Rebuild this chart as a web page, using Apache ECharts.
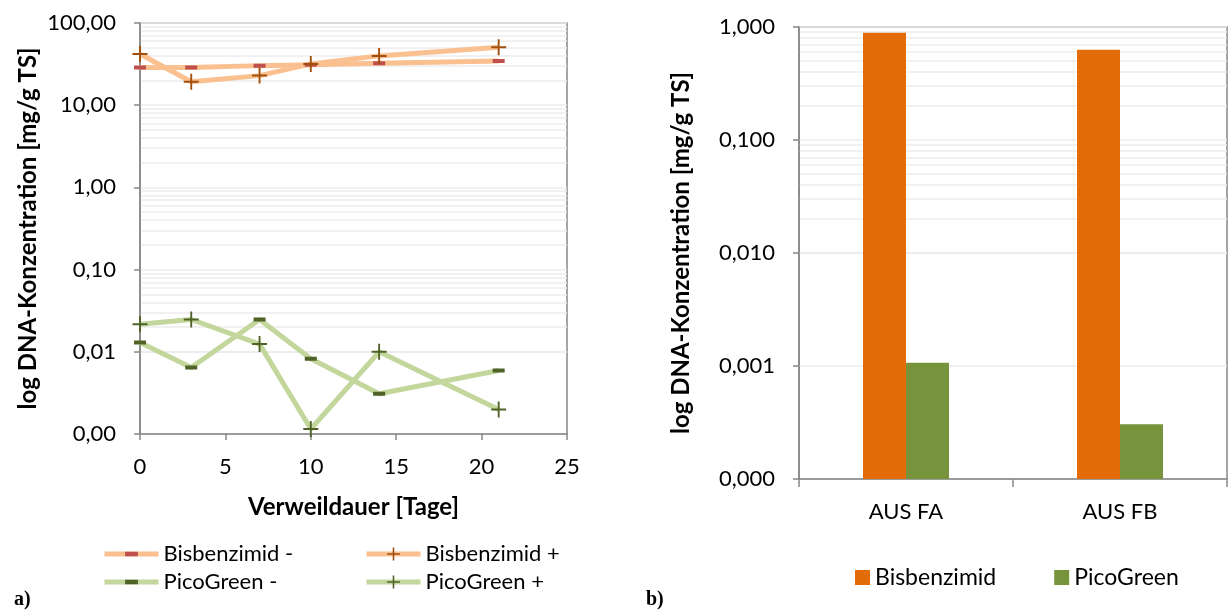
<!DOCTYPE html>
<html>
<head>
<meta charset="utf-8">
<script src="https://cdn.jsdelivr.net/npm/echarts@6/dist/echarts.min.js"></script>
<style>
html,body{margin:0;padding:0;background:#fff;}
#c{width:1229px;height:613px;}
</style>
</head>
<body>
<div id="c"></div>
<script>
// ---- data (left chart a) ----
const days = [0, 3, 7, 10, 14, 21];
const bisMinus = [28.7, 28.7, 30.3, 31.0, 32.4, 34.6];
const bisPlus = [42.0, 19.3, 22.9, 31.8, 39.8, 50.8];
const picoMinus = [0.0130, 0.00645, 0.0247, 0.00822, 0.00309, 0.00593];
const picoPlus = [0.0217, 0.0247, 0.0124, 0.00115, 0.0100, 0.00198];
const leftNames = ['Bisbenzimid -', 'Bisbenzimid +', 'PicoGreen -', 'PicoGreen +'];

// ---- data (right chart b) ----
const sites = ['AUS FA', 'AUS FB'];
const bisBar = [0.89, 0.63];
const picoBar = [0.00107, 0.000305];
const rightNames = ['Bisbenzimid', 'PicoGreen'];

const FONT = 'Lato, "Open Sans", sans-serif';
const AX = '#868686';
const GRIDC = '#ececec';
const FS = 22;
const FSN = 24;

// minor log gridlines (2..9 per decade)
function minorLines(loExp, hiExp) {
  const out = [];
  for (let e = loExp; e < hiExp; e++) {
    for (let m = 2; m <= 9; m++) out.push({ yAxis: m * Math.pow(10, e) });
  }
  return out;
}

const DASH = 'path://M0,0h0.01v0.01h-0.01z M11.99,11.99h0.01v0.01h-0.01z M0,4h12v4h-12z';
const PLUS = 'path://M7,0h2v16h-2z M0,7h16v2h-16z';

function pts(arr) { return days.map((d, i) => [d, arr[i]]); }

const chart = echarts.init(document.getElementById('c'), null, { renderer: 'canvas' });

const lineBase = (name, data, lineColor, symbol, symColor, symSize) => ({
  name, type: 'line', xAxisIndex: 0, yAxisIndex: 0, data,
  symbol, symbolSize: symSize, showSymbol: true,
  lineStyle: { color: lineColor, width: 5 },
  itemStyle: { color: symColor },
  z: 3, animation: false
});

const s1 = lineBase(leftNames[0], pts(bisMinus), '#FAC090', DASH, '#C0504D', [12, 12]);
s1.markLine = {
  silent: true, symbol: 'none', label: { show: false },
  lineStyle: { color: GRIDC, width: 1.5, type: 'solid' },
  data: minorLines(-3, 2), z: 0, animation: false
};
const s2 = lineBase(leftNames[1], pts(bisPlus), '#FAC090', PLUS, '#A0500C', [15, 16]);
const s3 = lineBase(leftNames[2], pts(picoMinus), '#C3D69B', DASH, '#4F6228', [12, 12]);
const s4 = lineBase(leftNames[3], pts(picoPlus), '#C3D69B', PLUS, '#4F6228', [15, 16]);

const b1 = {
  name: rightNames[0], type: 'bar', xAxisIndex: 1, yAxisIndex: 1,
  data: bisBar, barWidth: 43, barGap: '0%', itemStyle: { color: '#E36C09' },
  animation: false,
  markLine: {
    silent: true, symbol: 'none', label: { show: false },
    lineStyle: { color: GRIDC, width: 1.5, type: 'solid' },
    data: minorLines(-4, 0), z: 0, animation: false
  }
};
const b2 = {
  name: rightNames[1], type: 'bar', xAxisIndex: 1, yAxisIndex: 1,
  data: picoBar, barWidth: 43, barGap: '0%', itemStyle: { color: '#77933C' },
  animation: false
};

const txt = { color: '#000', fontFamily: FONT, fontSize: FS };
const nameTxt = { color: '#000', fontFamily: FONT, fontSize: FSN, fontWeight: 'bold' };

chart.setOption({
  backgroundColor: '#fff',
  animation: false,
  textStyle: { fontFamily: FONT },
  grid: [
    { left: 140, right: 662, top: 23, bottom: 179, show: true, borderColor: AX, borderWidth: 1.5 },
    { left: 799, right: 2, top: 27, bottom: 134, show: true, borderColor: AX, borderWidth: 1.5 }
  ],
  xAxis: [
    {
      gridIndex: 0, type: 'value', min: 0, max: 25, interval: 5,
      axisLine: { show: true, onZero: false, lineStyle: { color: AX, width: 1.5 } },
      axisTick: { show: true, length: 6, lineStyle: { color: AX, width: 1.5 } },
      axisLabel: Object.assign({ margin: 22 }, txt),
      splitLine: { show: false },
      name: 'Verweildauer [Tage]', nameLocation: 'middle', nameGap: 61,
      nameTextStyle: nameTxt
    },
    {
      gridIndex: 1, type: 'category', data: sites,
      axisLine: { show: true, lineStyle: { color: AX, width: 1.5 } },
      axisTick: { show: true, length: 8, lineStyle: { color: AX, width: 1.5 } },
      axisLabel: Object.assign({ margin: 22 }, txt),
      splitLine: { show: false }
    }
  ],
  yAxis: [
    {
      gridIndex: 0, type: 'log', logBase: 10, min: 0.001, max: 100,
      axisLine: { show: true, lineStyle: { color: AX, width: 1.5 } },
      axisTick: { show: true, length: 6, lineStyle: { color: AX, width: 1.5 } },
      axisLabel: Object.assign({ margin: 24, formatter: v => v.toFixed(2).replace('.', ',') }, txt),
      splitLine: { show: true, lineStyle: { color: GRIDC, width: 1.5 } },
      name: 'log DNA-Konzentration [mg/g TS]', nameLocation: 'middle', nameGap: 100,
      nameTextStyle: nameTxt
    },
    {
      gridIndex: 1, type: 'log', logBase: 10, min: 0.0001, max: 1, startValue: 0.0001,
      axisLine: { show: true, lineStyle: { color: AX, width: 1.5 } },
      axisTick: { show: true, length: 6, lineStyle: { color: AX, width: 1.5 } },
      axisLabel: Object.assign({ margin: 24, formatter: v => v.toFixed(3).replace('.', ',') }, txt),
      splitLine: { show: true, lineStyle: { color: GRIDC, width: 1.5 } },
      name: 'log DNA-Konzentration [mg/g TS]', nameLocation: 'middle', nameGap: 106,
      nameTextStyle: nameTxt
    }
  ],
  legend: [
    {
      data: [leftNames[0], leftNames[2]], orient: 'vertical', left: 97, top: 538,
      itemWidth: 54, itemHeight: 16, itemGap: 6, textStyle: txt, selectedMode: false,
      lineStyle: { width: 5 }
    },
    {
      data: [leftNames[1], leftNames[3]], orient: 'vertical', left: 359, top: 538,
      itemWidth: 54, itemHeight: 16, itemGap: 6, textStyle: txt, selectedMode: false,
      lineStyle: { width: 5 }
    },
    {
      data: rightNames, orient: 'horizontal', left: 850, top: 561, icon: 'rect',
      itemWidth: 15, itemHeight: 15, itemGap: 58, textStyle: Object.assign({}, txt, { fontSize: 23 }), selectedMode: false
    }
  ],
  graphic: [
    { type: 'text', left: 14, top: 590, style: { text: 'a)', fill: '#000', font: 'bold 20px "Liberation Serif", serif' } },
    { type: 'text', left: 646, top: 590, style: { text: 'b)', fill: '#000', font: 'bold 20px "Liberation Serif", serif' } }
  ],
  series: [s1, s2, s3, s4, b1, b2]
});
</script>
</body>
</html>
